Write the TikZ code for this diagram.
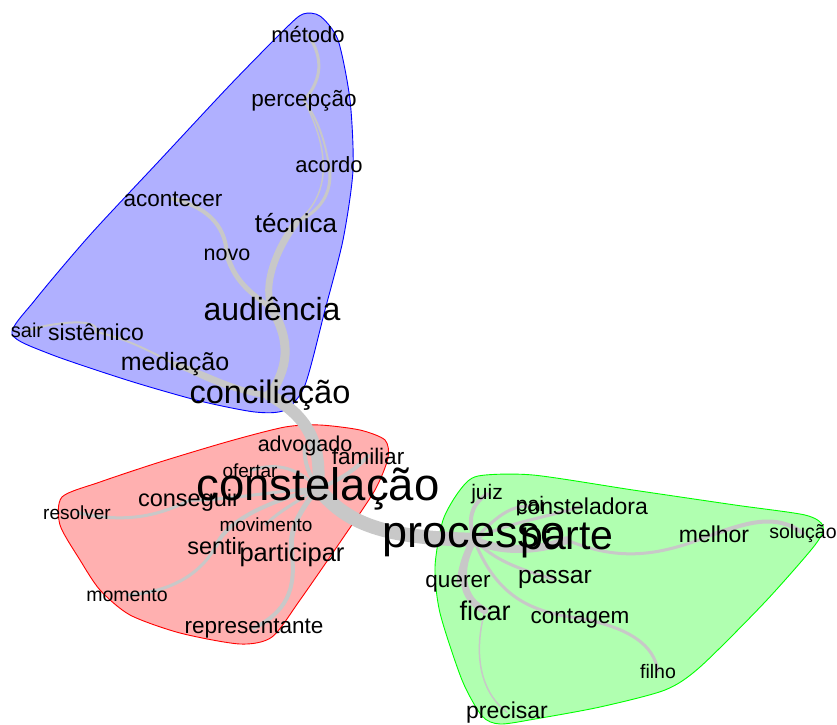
\documentclass[tikz,border=0pt]{standalone}
\usepackage{fontspec}
\setmainfont{Liberation Sans}
\pgfdeclarelayer{hulls}
\pgfdeclarelayer{edges}
\pgfsetlayers{hulls,edges,main}
\definecolor{bluefill}{RGB}{176,176,255}
\definecolor{redfill}{RGB}{255,176,176}
\definecolor{greenfill}{RGB}{176,255,176}
\definecolor{bluedraw}{RGB}{0,0,255}
\definecolor{reddraw}{RGB}{255,0,0}
\definecolor{greendraw}{RGB}{0,255,0}
\definecolor{edgegray}{RGB}{200,200,200}
\tikzset{
  edg/.style={line width=#1, draw=edgegray, line cap=round},
  hullshape/.style={line width=0.9pt, line join=round},
}
\newcommand\wordnode[5]{\node[font=\fontsize{#4}{#4}\selectfont,inner sep=0pt,anchor=base,text=black] (#1) at (#2,{#3+0.27*#4}) {#5};}
\begin{document}
\begin{tikzpicture}[x=1pt,y=-1pt]
\useasboundingbox (0,0) rectangle (837,724);
% words
\wordnode{metodo}{308}{37}{22}{método}
\wordnode{percepcao}{304}{100}{22.5}{percepção}
\wordnode{acordo}{329}{167}{22}{acordo}
\wordnode{acontecer}{173}{200}{22.5}{acontecer}
\wordnode{tecnica}{296}{225}{26}{técnica}
\wordnode{novo}{227}{255}{21.5}{novo}
\wordnode{audiencia}{272}{312}{32}{audiência}
\wordnode{sair}{27}{332}{20}{sair}
\wordnode{sistemico}{96}{334}{23}{sistêmico}
\wordnode{mediacao}{175}{364}{25}{mediação}
\wordnode{conciliacao}{270}{395}{32.5}{conciliação}
\wordnode{advogado}{305}{446}{21.5}{advogado}
\wordnode{familiar}{368}{458}{22.5}{familiar}
\wordnode{ofertar}{250}{472}{19}{ofertar}
\wordnode{constelacao}{318}{488}{45.5}{constelação}
\wordnode{conseguir}{189}{500}{23.5}{conseguir}
\wordnode{resolver}{77}{514}{19}{resolver}
\wordnode{movimento}{266}{526}{19}{movimento}
\wordnode{sentir}{216}{548}{23.5}{sentir}
\wordnode{participar}{292}{555}{25.5}{participar}
\wordnode{momento}{127}{596}{19.5}{momento}
\wordnode{representante}{254}{627}{22.5}{representante}
\wordnode{juiz}{487}{494}{21}{juiz}
\wordnode{pai}{530}{506}{21}{pai}
\wordnode{consteladora}{582}{508}{23}{consteladora}
\wordnode{processo}{474}{535}{45}{processo}
\wordnode{parte}{567}{538}{41}{parte}
\wordnode{melhor}{714}{536}{23}{melhor}
\wordnode{solucao}{803}{533}{19.5}{solução}
\wordnode{passar}{555}{577}{24.5}{passar}
\wordnode{querer}{458}{581}{22.5}{querer}
\wordnode{ficar}{485}{613}{27}{ficar}
\wordnode{contagem}{580}{617}{22.5}{contagem}
\wordnode{filho}{658}{673}{19.5}{filho}
\wordnode{precisar}{507}{712}{23}{precisar}
% hulls
\begin{pgfonlayer}{hulls}
\filldraw[hullshape, fill=bluefill, draw=bluedraw] plot[smooth cycle, tension=0.45] coordinates {
 (303,14) (320,16) (338,40) (350,100) (353,170) (343,240) (325,310) (305,385) (285,410)
 (255,412) (200,401) (130,381) (50,354) (12,334) (35,300) (90,235) (160,160) (230,85) (285,29)};
\filldraw[hullshape, fill=redfill, draw=reddraw] plot[smooth cycle, tension=0.45] coordinates {
 (62,497) (60,525) (80,560) (100,590) (130,615) (180,633) (240,644) (272,637) (300,600)
 (345,535) (375,490) (388,458) (385,440) (360,430) (320,425) (285,427) (230,441) (160,462) (100,482)};
\filldraw[hullshape, fill=greenfill, draw=greendraw] plot[smooth cycle, tension=0.45] coordinates {
 (478,476) (533,475) (633,490) (735,505) (805,515) (823,526) (815,545) (765,602) (700,667)
 (665,690) (600,707) (535,719) (500,724) (482,716) (462,680) (440,613) (435,567) (443,520) (460,490)};
\end{pgfonlayer}
% edges
\begin{pgfonlayer}{edges}
\draw[edg=3] (metodo.center) .. controls (324,58) and (322,80) .. (percepcao.center);
\draw[edg=2] (percepcao.center) .. controls (322,125) and (326,150) .. (acordo.center);
\draw[edg=1.5] (percepcao.center) .. controls (330,150) and (332,195) .. (tecnica.center);
\draw[edg=3] (acordo.center) .. controls (334,195) and (318,212) .. (tecnica.center);
\draw[edg=7] (tecnica.center) .. controls (276,250) and (262,285) .. (audiencia.center);
\draw[edg=4] (acontecer.center) .. controls (212,208) and (226,230) .. (novo.center);
\draw[edg=5] (novo.center) .. controls (236,285) and (255,295) .. (audiencia.center);
\draw[edg=9] (audiencia.center) .. controls (296,350) and (282,375) .. (conciliacao.center);
\draw[edg=2] (sair.center) .. controls (60,321) and (100,318) .. (sistemico.center);
\draw[edg=2] (sistemico.center) .. controls (160,345) and (200,392) .. (conciliacao.center);
\draw[edg=6] (mediacao.center) .. controls (210,376) and (235,392) .. (conciliacao.center);
\draw[edg=12] (conciliacao.center) .. controls (305,415) and (322,440) .. (constelacao.center);
\draw[edg=14] (constelacao.center) .. controls (345,520) and (375,538) .. (processo.center);
\draw[edg=4] (advogado.center) .. controls (303,462) and (310,476) .. (constelacao.center);
\draw[edg=4] (familiar.center) .. controls (355,470) and (340,480) .. (constelacao.center);
\draw[edg=3] (ofertar.center) .. controls (280,461) and (300,470) .. (constelacao.center);
\draw[edg=3] (conseguir.center) .. controls (230,500) and (280,490) .. (constelacao.center);
\draw[edg=3] (resolver.center) .. controls (112,521) and (150,521) .. (conseguir.center);
\draw[edg=3] (movimento.center) .. controls (275,515) and (290,505) .. (constelacao.center);
\draw[edg=4] (sentir.center) .. controls (225,525) and (255,505) .. (constelacao.center);
\draw[edg=3] (sentir.center) .. controls (200,575) and (170,592) .. (momento.center);
\draw[edg=5] (participar.center) .. controls (288,530) and (300,510) .. (constelacao.center);
\draw[edg=4] (participar.center) .. controls (296,590) and (286,612) .. (representante.center);
\draw[edg=8] (processo.center) .. controls (500,553) and (540,551) .. (parte.center);
\draw[edg=4] (processo.center) .. controls (468,520) and (470,505) .. (juiz.center);
\draw[edg=3] (processo.center) .. controls (495,518) and (510,505) .. (pai.center);
\draw[edg=3] (processo.center) .. controls (505,523) and (545,518) .. (consteladora.center);
\draw[edg=3] (parte.center) .. controls (620,562) and (660,556) .. (melhor.center);
\draw[edg=4] (melhor.center) .. controls (745,524) and (775,512) .. (solucao.center);
\draw[edg=3] (processo.center) .. controls (495,560) and (515,568) .. (passar.center);
\draw[edg=3] (processo.center) .. controls (465,550) and (460,565) .. (querer.center);
\draw[edg=7] (processo.center) .. controls (456,570) and (462,600) .. (ficar.center);
\draw[edg=3] (processo.center) .. controls (495,592) and (525,612) .. (contagem.center);
\draw[edg=3] (contagem.center) .. controls (630,628) and (654,645) .. (filho.center);
\draw[edg=1.5] (ficar.center) .. controls (474,650) and (478,690) .. (precisar.center);
\end{pgfonlayer}
\end{tikzpicture}
\end{document}
